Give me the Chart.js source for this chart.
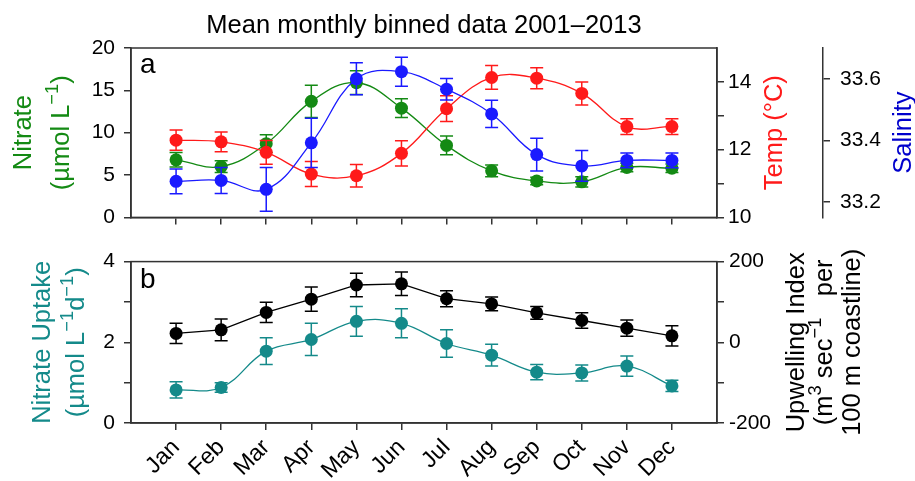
<!DOCTYPE html>
<html>
<head>
<meta charset="utf-8">
<script src="https://cdn.jsdelivr.net/npm/chart.js@4"></script>
<style>
  html, body { margin: 0; padding: 0; background: #fff; }
  #wrap { position: relative; width: 915px; height: 481px; overflow: hidden; }
  canvas { position: absolute; left: 0; }
  #topPanel { top: 0; }
  #bottomPanel { top: 240px; }
</style>
</head>
<body>
<div id="wrap">
  <canvas id="topPanel" width="915" height="240"></canvas>
  <canvas id="bottomPanel" width="915" height="241"></canvas>
</div>
<script>
// ---- monthly means (2001-2013) ----
const months = ['Jan','Feb','Mar','Apr','May','Jun','Jul','Aug','Sep','Oct','Nov','Dec'];

const nitrate    = [6.8, 6.0, 8.7, 13.7, 15.9, 12.9, 8.5, 5.5, 4.3, 4.2, 5.9, 5.8];
const nitrateErr = [0.85, 0.7, 1.05, 1.9, 1.4, 1.1, 1.1, 0.7, 0.45, 0.6, 0.5, 0.5];

const temp    = [12.28, 12.23, 11.92, 11.28, 11.23, 11.89, 13.21, 14.13, 14.11, 13.66, 12.68, 12.68];
const tempErr = [0.30, 0.29, 0.35, 0.37, 0.33, 0.37, 0.38, 0.35, 0.31, 0.34, 0.23, 0.23];

const salinity    = [33.267, 33.270, 33.241, 33.392, 33.600, 33.623, 33.566, 33.486, 33.354, 33.317, 33.335, 33.335];
const salinityErr = [0.040, 0.042, 0.071, 0.080, 0.052, 0.047, 0.035, 0.044, 0.053, 0.050, 0.024, 0.024];

const uptake    = [0.82, 0.88, 1.78, 2.07, 2.52, 2.47, 1.97, 1.68, 1.26, 1.24, 1.41, 0.92];
const uptakeErr = [0.20, 0.12, 0.33, 0.40, 0.37, 0.36, 0.34, 0.27, 0.19, 0.20, 0.25, 0.14];

const upwelling    = [22, 31, 74, 107, 142, 145, 108, 95, 73, 54, 35, 16];
const upwellingErr = [25, 27, 25, 30, 29, 29, 20, 17, 16, 19, 20, 25];

// ---- tick values ----
const nitrateTicks   = [0, 5, 10, 15, 20];
const tempTicks      = [10, 11, 12, 13, 14];
const salinityTicks  = [33.2, 33.4, 33.6];
const uptakeTicks    = [0, 1, 2, 3, 4];
const upwellingTicks = [-200, -100, 0, 100, 200];

// ---- styling ----
const FONT = '"Liberation Sans", Arial, sans-serif';
const AXIS = '#333333';
const C_NITRATE = '#148a14';
const C_TEMP = '#ff1a1a';
const C_SAL = '#1a1aff';
const C_UPTAKE = '#148a8a';
const C_UPW = '#000000';
const TICK_FONT = { family: FONT, size: 21 };

const monthPos = months.map((m, i) => i + 1);
const pts = vals => vals.map((v, i) => ({ x: monthPos[i], y: v }));
const setTicks = list => scale => { scale.ticks = list.map(v => ({ value: v })); };

// error bars drawn just before each dataset so layering follows dataset order
const errorBars = {
  id: 'errorBars',
  beforeDatasetDraw(chart, args) {
    const ds = chart.data.datasets[args.index];
    if (!ds.errors) return;
    const xs = chart.scales[args.meta.xAxisID];
    const ys = chart.scales[args.meta.yAxisID];
    const ctx = chart.ctx;
    ctx.save();
    ctx.strokeStyle = ds.borderColor;
    ctx.lineWidth = 1.5;
    ds.data.forEach((p, i) => {
      const e = ds.errors[i];
      const x = xs.getPixelForValue(p.x);
      const yTop = ys.getPixelForValue(p.y + e);
      const yBot = ys.getPixelForValue(p.y - e);
      ctx.beginPath();
      ctx.moveTo(x, yTop); ctx.lineTo(x, yBot);
      ctx.moveTo(x - 6.5, yTop); ctx.lineTo(x + 6.5, yTop);
      ctx.moveTo(x - 6.5, yBot); ctx.lineTo(x + 6.5, yBot);
      ctx.stroke();
    });
    ctx.restore();
  }
};

// box around the plotting area
const frame = {
  id: 'frame',
  afterDraw(chart) {
    const { ctx, chartArea: a } = chart;
    ctx.save();
    ctx.strokeStyle = AXIS;
    ctx.lineWidth = 1.5;
    ctx.strokeRect(a.left, a.top, a.right - a.left, a.bottom - a.top);
    ctx.restore();
  }
};

// vertical (bottom-to-top) text with optional superscript pieces, centred on (cx, cy)
function drawRotated(ctx, segs, cx, cy, size, color) {
  ctx.save();
  ctx.translate(cx, cy);
  ctx.rotate(-Math.PI / 2);
  ctx.fillStyle = color;
  ctx.textBaseline = 'alphabetic';
  ctx.textAlign = 'left';
  const supSize = size * 0.72;
  const widths = segs.map(s => {
    ctx.font = (s.sup ? supSize : size) + 'px ' + FONT;
    return ctx.measureText(s.t).width;
  });
  const total = widths.reduce((a, b) => a + b, 0);
  let x = -total / 2;
  segs.forEach((s, i) => {
    ctx.font = (s.sup ? supSize : size) + 'px ' + FONT;
    const y = size * 0.36 - (s.sup ? size * 0.42 : 0);
    ctx.fillText(s.t, x, y);
    x += widths[i];
  });
  ctx.restore();
}

function linearX(showLabels, height) {
  return {
    type: 'linear', position: 'bottom', min: 0, max: 13,
    afterBuildTicks: setTicks(monthPos),
    afterFit: s => { s.height = height; },
    grid: { drawOnChartArea: false, tickLength: 7, color: AXIS, lineWidth: 1.5 },
    border: { color: AXIS, width: 1.5 },
    ticks: {
      autoSkip: false,
      color: '#000',
      font: { family: FONT, size: 23 },
      minRotation: showLabels ? 45 : 0,
      maxRotation: showLabels ? 45 : 0,
      padding: 4,
      callback: v => showLabels ? months[v - 1] : ''
    }
  };
}

function yAxis(opts) {
  return Object.assign({
    type: 'linear',
    grid: { drawOnChartArea: false, tickLength: 7, color: AXIS, lineWidth: 1.5 },
    border: { color: AXIS, width: 1.5 },
  }, opts);
}

const common = {
  responsive: false,
  animation: false,
  events: [],
  plugins: { legend: { display: false }, tooltip: { enabled: false }, title: { display: false } },
};

// ---- panel a ----
const topTitles = {
  id: 'topTitles',
  afterDraw(chart) {
    const { ctx, chartArea: a } = chart;
    const cy = (a.top + a.bottom) / 2;
    ctx.save();
    ctx.fillStyle = '#000';
    ctx.font = '25.5px ' + FONT;
    ctx.textAlign = 'center';
    ctx.textBaseline = 'alphabetic';
    ctx.fillText('Mean monthly binned data 2001\u20132013', (a.left + a.right) / 2, 33);
    ctx.textAlign = 'left';
    ctx.font = '28px ' + FONT;
    ctx.fillText('a', a.left + 9, a.top + 25);
    ctx.restore();
    drawRotated(ctx, [{ t: 'Nitrate' }], 22, cy, 25.5, C_NITRATE);
    drawRotated(ctx, [{ t: '(\u00b5mol L' }, { t: '\u22121', sup: true }, { t: ')' }], 60, cy, 25.5, C_NITRATE);
    drawRotated(ctx, [{ t: 'Temp (\u00b0C)' }], 773, cy, 25.5, C_TEMP);
    drawRotated(ctx, [{ t: 'Salinity' }], 902, cy, 25.5, '#0000cc');
  }
};

new Chart(document.getElementById('topPanel'), {
  type: 'line',
  data: {
    datasets: [
      { label: 'Salinity', data: pts(salinity), errors: salinityErr, yAxisID: 'sal',
        borderColor: C_SAL, backgroundColor: C_SAL },
      { label: 'Temp', data: pts(temp), errors: tempErr, yAxisID: 'temp',
        borderColor: C_TEMP, backgroundColor: C_TEMP },
      { label: 'Nitrate', data: pts(nitrate), errors: nitrateErr, yAxisID: 'y',
        borderColor: C_NITRATE, backgroundColor: C_NITRATE },
    ].map(d => Object.assign(d, { tension: 0.4, borderWidth: 1.3, pointRadius: 6.5,
        pointBorderWidth: 0, pointBackgroundColor: d.borderColor, fill: false }))
  },
  options: Object.assign({}, common, {
    layout: { padding: { top: 48, left: 0, right: 0, bottom: 0 } },
    scales: {
      x: linearX(false, 17),
      y: yAxis({ position: 'left', min: 0, max: 20,
        afterBuildTicks: setTicks(nitrateTicks),
        afterFit: s => { s.width = 131; },
        ticks: { font: TICK_FONT, color: '#000', padding: 9 } }),
      temp: yAxis({ position: 'right', min: 10, max: 15, weight: 0,
        afterBuildTicks: setTicks(tempTicks),
        afterFit: s => { s.width = 106; },
        ticks: { font: TICK_FONT, color: '#000', padding: 4,
          callback: v => (v % 2 === 0 ? String(v) : '') } }),
      sal: yAxis({ position: 'right', min: 33.15, max: 33.70, weight: 1,
        afterBuildTicks: setTicks(salinityTicks),
        afterFit: s => { s.width = 92; },
        ticks: { font: TICK_FONT, color: '#000', padding: 10,
          callback: v => v.toFixed(1) } }),
    }
  }),
  plugins: [errorBars, frame, topTitles]
});

// ---- panel b ----
const bottomTitles = {
  id: 'bottomTitles',
  afterDraw(chart) {
    const { ctx, chartArea: a } = chart;
    const cy = (a.top + a.bottom) / 2;
    ctx.save();
    ctx.fillStyle = '#000';
    ctx.font = '28px ' + FONT;
    ctx.textAlign = 'left';
    ctx.fillText('b', a.left + 9, a.top + 26);
    ctx.restore();
    drawRotated(ctx, [{ t: 'Nitrate Uptake' }], 41, cy, 25.5, C_UPTAKE);
    drawRotated(ctx, [{ t: '(\u00b5mol L' }, { t: '\u22121', sup: true }, { t: 'd' }, { t: '\u22121', sup: true }, { t: ')' }], 75, cy, 25.5, C_UPTAKE);
    drawRotated(ctx, [{ t: 'Upwelling Index' }], 795, cy, 25.5, '#000');
    drawRotated(ctx, [{ t: '(m' }, { t: '3', sup: true }, { t: ' sec' }, { t: '\u22121', sup: true }, { t: '   per' }], 823, cy, 25.5, '#000');
    drawRotated(ctx, [{ t: '100 m coastline)' }], 851, cy, 25.5, '#000');
  }
};

new Chart(document.getElementById('bottomPanel'), {
  type: 'line',
  data: {
    datasets: [
      { label: 'Upwelling Index', data: pts(upwelling), errors: upwellingErr, yAxisID: 'upw',
        borderColor: C_UPW, backgroundColor: C_UPW, tension: 0 },
      { label: 'Nitrate Uptake', data: pts(uptake), errors: uptakeErr, yAxisID: 'y',
        borderColor: C_UPTAKE, backgroundColor: C_UPTAKE, tension: 0.4 },
    ].map(d => Object.assign(d, { borderWidth: 1.3, pointRadius: 6.5,
        pointBorderWidth: 0, pointBackgroundColor: d.borderColor, fill: false }))
  },
  options: Object.assign({}, common, {
    layout: { padding: { top: 7, left: 0, right: 0, bottom: 0 } },
    scales: {
      x: linearX(true, 58),
      y: yAxis({ position: 'left', min: 0, max: 4,
        afterBuildTicks: setTicks(uptakeTicks),
        afterFit: s => { s.width = 131; },
        ticks: { font: TICK_FONT, color: '#000', padding: 9,
          callback: v => (v % 2 === 0 ? String(v) : '') } }),
      upw: yAxis({ position: 'right', min: -200, max: 200,
        afterBuildTicks: setTicks(upwellingTicks),
        afterFit: s => { s.width = 198; },
        ticks: { font: TICK_FONT, color: '#000', padding: 5,
          callback: v => (v % 200 === 0 ? String(v) : '') } }),
    }
  }),
  plugins: [errorBars, frame, bottomTitles]
});
</script>
</body>
</html>
